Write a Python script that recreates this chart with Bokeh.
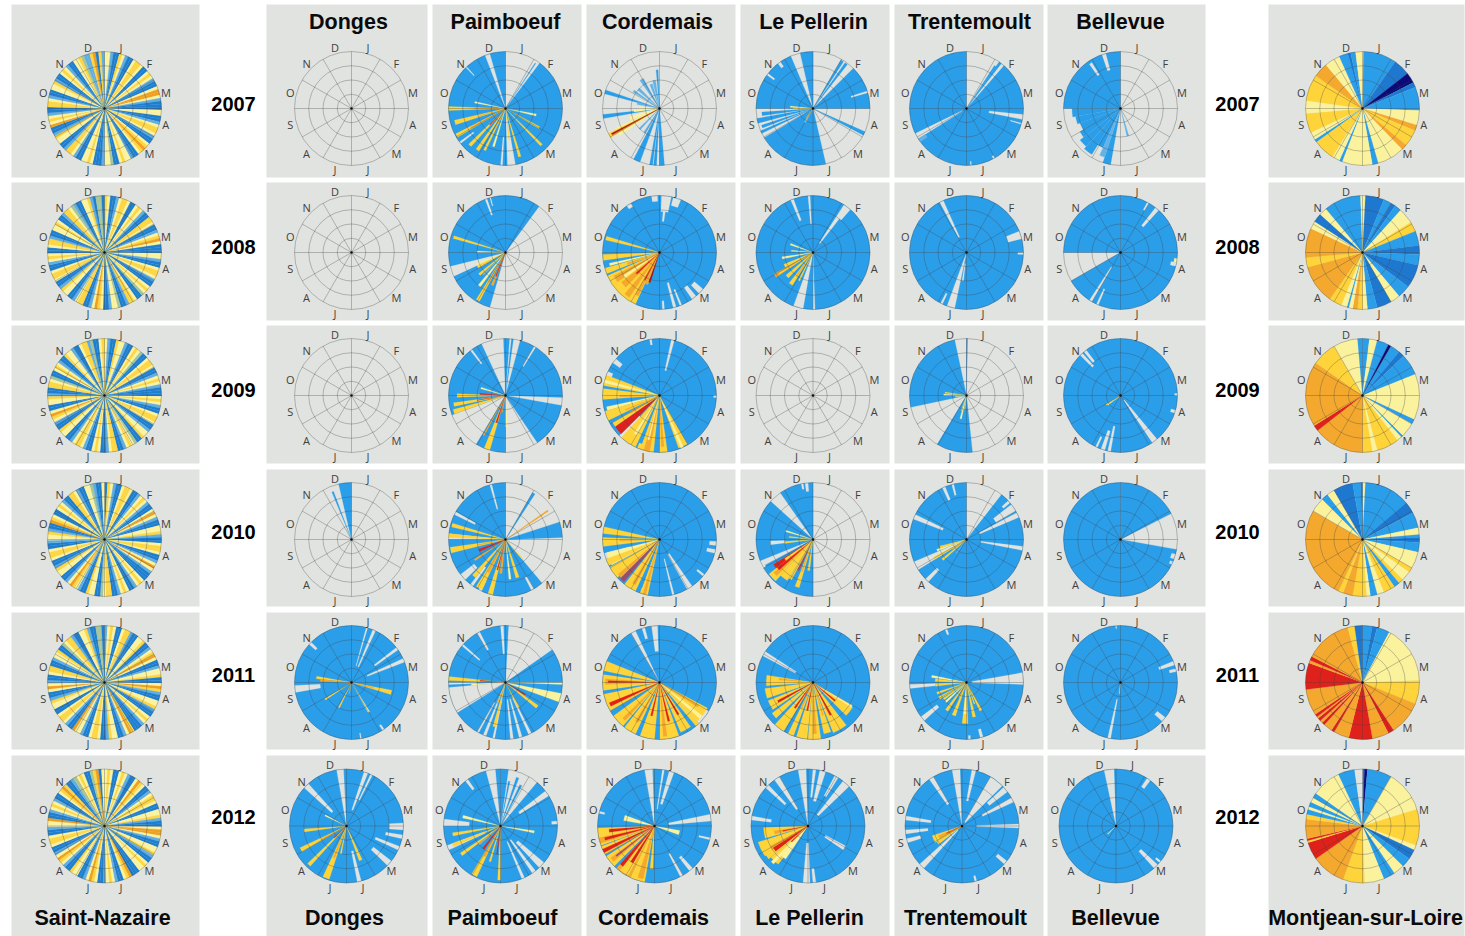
from bokeh.plotting import figure
from bokeh.models import ColumnDataSource, Range1d
from bokeh.embed import file_html
from bokeh.resources import INLINE
from bokeh.core.properties import value
import math

YEARS = ["2007", "2008", "2009", "2010", "2011", "2012"]
MONTHS = ["J", "F", "M", "A", "M", "J", "J", "A", "S", "O", "N", "D"]
STATIONS = ["Saint-Nazaire", "Donges", "Paimboeuf", "Cordemais", "Le Pellerin",
            "Trentemoult", "Bellevue", "Montjean-sur-Loire"]

# ---- Saint-Nazaire: one class letter per equal sector, clockwise from January
NAZAIRE_2007 = "PPLBBYPLBBPYYPBBPYPLBBPOOPLBBBPPBBLPYYPLBBPYOYPBBLPPYPBBGPPLBBBPYPPBBLPYYLBBPPYLBBOPYPLBBYYPLBBPPYLBBPYPLBBPPYGLLYOBYL"
NAZAIRE_2008 = "YPBBLPYYPBBPYPLBBYYPBBLPYOPBBBPPLBBPYYPLBBPYPGBBPYYLBBGPPLBBPYOPLBBYYPLBBPPYLBBPYYPBBLPYPBBPYYLBBPPYPBBLYYPGLBBPPYLBGGB"
NAZAIRE_2009 = "PLBBYPPLBBPYPGBBPYYPBBLPYPLBBBPYPLBBPYYPBBLPPYBBGPYPLBBYYPLBBPYPBBLPYYPLBBPPYBBLPYOPBBPPYLBBYYPGBBPYPLBBYPPLBBPYYLGBBPY"
NAZAIRE_2010 = "BYPLBBPYYPBBLPYPLBBPOPLBBPPYLBBPYYPBBLPOPLBBBPYPLBBPYPLBBYYPGBBPPYBBLPYOPLBBPPYLBBPYYPBBLPPYLBBOYPBBPYPLBBYYPLBBPPGLBBP"
NAZAIRE_2011 = "LPYPBBPYYLBBPPYBBLPYOPBBLPPYBBPOYLBBPPYLBBPYPLBBBYOPLBBPPYLBBPYYPBBLPPOBBLPYYPBBPPYLBBPOPLBBPYYBBLPPYBBGPYYLBBPPYLBBGGB"
NAZAIRE_2012 = "PYPBBPYPLBBPOYPBBLPYYPBBPPYLBBPOOPLBBPPYLBBPYPPBBBOYPBBLPYPLBBPYOPLBBPPYBBLPYOPLBBPYYPBBLPPOBBLPYPLBBPYOYBBLGPYPBBGYOBP"

# ---- full sectors: (end of sector in degrees, class), clockwise from January
MONTJEAN_2007 = [(1,"p"),(35,"b"),(52,"m"),(63,"n"),(68,"m"),(92,"b"),(107,"p"),(113,"o"),(130,"y"),(136,"o"),(164,"p"),(170,"b"),(201,"p"),(204,"b"),(212,"p"),(234,"y"),(237,"b"),(245,"p"),(265,"y"),(278,"p"),(305,"y"),(320,"o"),(336,"p"),(345,"b"),(348,"m"),(353,"b"),(360,"p")]
MONTJEAN_2008 = [(3,"p"),(22,"m"),(30,"b"),(35,"m"),(42,"b"),(58,"p"),(68,"y"),(83,"b"),(92,"m"),(103,"b"),(127,"m"),(140,"b"),(150,"p"),(165,"m"),(175,"b"),(180,"p"),(185,"y"),(190,"o"),(194,"p"),(196,"b"),(202,"p"),(215,"y"),(255,"o"),(265,"y"),(295,"o"),(303,"p"),(312,"m"),(320,"p"),(358,"b"),(360,"p")]
MONTJEAN_2009 = [(7,"b"),(15,"p"),(27,"b"),(30,"n"),(40,"b"),(46,"m"),(68,"b"),(115,"p"),(120,"b"),(135,"p"),(137,"b"),(142,"p"),(165,"y"),(170,"p"),(180,"y"),(232,"o"),(238,"r"),(305,"o"),(330,"y"),(355,"p"),(360,"b")]
MONTJEAN_2010 = [(3,"p"),(50,"b"),(62,"m"),(78,"b"),(85,"p"),(88,"b"),(93,"m"),(103,"b"),(120,"p"),(125,"y"),(135,"p"),(140,"y"),(146,"b"),(158,"y"),(165,"p"),(172,"b"),(176,"p"),(190,"y"),(200,"o"),(205,"y"),(300,"o"),(315,"p"),(322,"b"),(330,"p"),(350,"m"),(358,"b"),(360,"m")]
MONTJEAN_2011 = [(10,"b"),(15,"m"),(28,"b"),(88,"p"),(100,"y"),(112,"y"),(147,"o"),(153,"r"),(170,"o"),(194,"r"),(210,"o"),(213,"r"),(222,"o"),(225,"r"),(228,"o"),(231,"r"),(233,"o"),(236,"r"),(263,"o"),(290,"r"),(293,"o"),(297,"r"),(345,"o"),(352,"y"),(360,"m")]
MONTJEAN_2012 = [(2,"m"),(5,"n"),(30,"b"),(73,"p"),(110,"y"),(115,"p"),(125,"m"),(135,"b"),(146,"p"),(158,"b"),(178,"p"),(200,"y"),(235,"o"),(253,"r"),(255,"y"),(257,"r"),(277,"o"),(282,"y"),(287,"b"),(290,"p"),(295,"b"),(300,"p"),(305,"b"),(335,"p"),(352,"b"),(360,"w")]

# ---- painted in order: (from, to, class) or (from, to, class, reach) or (from, to, class, start, reach)
DONGES_2007 = []
DONGES_2008 = []
DONGES_2009 = []
DONGES_2010 = [(347,360,"b"),(337.5,339.5,"b",.9)]
DONGES_2011 = [(0,360,"b"),(15,16.5,"w",.3,1),(22,25,"w",.3,1),(52,55,"w",.5,1),(65,69,"w",.3,1),(260,267,"w",.55,1),(312,315,"w",.85,1),(145,147,"w",.9,1),(170,171,"w",.9,1),
  (276,280,"y",.62),(272,276,"o",.55),(101,107,"y",.72),(103,105,"o",.4),(236,239,"y",.55),(205,208,"y",.5),(190,192,"o",.2),(148,151,"p",.6)]
DONGES_2012 = [(0,360,"b"),(350,357,"w"),(18,22,"w",.3,1),(25,27,"w",.5,1),(312,318,"w",.35,1),(87,94,"w",.75,1),(99,103,"w",.7,1),(111,115,"w",.55,1),(128,134,"w",.6,1),(165,169,"w",.45,1),
  (262,266,"y",.75),(240,245,"y",.9),(222,226,"y",.95),(198,205,"y",.98),(200,203,"o",.6),(190,193,"y",.5),(155,160,"y",.65),(295,298,"p",.42),(225,228,"r",.3),(240,243,"o",.5)]

PAIMBOEUF_2007 = [(37,360,"b"),(33,34,"b",.95),(339,344,"w"),(170,178,"w"),(183,185,"w",.5,1),(232,234,"w",.7,1),(316,317,"w",.8,1),
  (268,272,"y",1),(269,271,"o",.55),(252,257,"y",.92),(253,255,"o",.5),(239,243,"y",.98),(240,242,"o",.7),(222,226,"y",.9),(223,225,"r",.4),(212,216,"y",.88),(205,208,"y",.82),(206,207.5,"o",.4),
  (280,283,"p",.55),(100,104,"p",.55),(118,121,"y",.68),(134,137,"y",.9),(162,165,"y",.88),(172,174,"y",.55),(196,199,"p",.7)]
PAIMBOEUF_2008 = [(0,36,"b"),(196,245,"b"),(256,360,"b"),(339,341,"w",.7,1),(344,345,"w",.85,1),
  (285,288,"y",.95),(270,273,"p",.5),(240,246,"y",.55),(228,232,"y",.6),(216,220,"p",.75),(208,212,"y",.97),(209,211,"o",.6),(200,204,"o",.62),(201,203,"r",.45),(224,226,"o",.55),(246,249,"p",.55)]
PAIMBOEUF_2009 = [(0,4,"b"),(6,8,"b"),(15,92,"b"),(100,146,"b"),(180,211,"b"),(250,335,"b"),(358,360,"b"),(30,32,"w",.6,1),(322,324,"w",.7,1),
  (268,272,"y",.85),(258,262,"y",.92),(260,261,"r",.5),(250,255,"y",.95),(285,289,"p",.45),(196,202,"y",1),(197,200,"r",.5),(190,193,"o",.3),(176,180,"p",.55),(208,210,"o",.8),(272,275,"r",.45)]
PAIMBOEUF_2010 = [(180,270,"b"),(276,360,"b"),(30,33,"b",.95),(55,57,"o",.9),(57,59,"w",.8,1),(72,88,"b"),(140,180,"b"),(344,346,"w",.55,1),(296,299,"w",.6,1),(150,153,"w",.75,1),(225,232,"w",.7,1),(215,218,"w",.6,1),(205,208,"w",.8,1),
  (283,287,"y",.97),(272,276,"y",1),(256,262,"y",.98),(258,260,"o",.5),(245,250,"r",.5),(235,238,"o",.65),(218,223,"y",.85),(205,212,"y",.97),(206,209,"o",.65),(193,198,"y",1),(194,196,"r",.55),(186,190,"o",.6),(160,165,"y",.7),(172,175,"p",.7),(138,140,"y",.45)]
PAIMBOEUF_2011 = [(55,360,"b"),(358,360,"b"),(0,3,"b"),(238,265,"w"),(355,358,"w",.5,1),(330,333,"w",.65,1),(310,312,"w",.6,1),(200,203,"w"),(208,210,"w",.4,1),(191,193,"w",.3,1),(172,175,"w",.3,1),(163,166,"w",.3,1),(153,156,"w",.3,1),(268,270,"w",.5,1),
  (101,110,"p",1),(125,130,"y",.7),(120,123,"r",.4),(192,196,"y",.8),(272,276,"y",1),(273,275,"r",.45),(265,268,"p",.6),(90,92,"p",1),(200,203,"o",.4),(150,154,"y",.5)]
PAIMBOEUF_2012 = [(40,345,"b"),(355,360,"b"),(0,8,"b"),(10,12,"b",.8),(18,21,"b",.9),(25,28,"b",.8),(52,58,"w",.4,1),(270,277,"w",.55,1),(245,250,"w",.3,1),(322,325,"w",.8,1),(130,137,"w",.4,1),(142,146,"w",.3,1),(155,158,"w",.3,1),(85,88,"w",.9,1),
  (282,286,"p",.68),(98,102,"p",.6),(258,262,"y",.85),(246,250,"y",.9),(232,236,"y",.85),(205,211,"y",.98),(206,209,"o",.6),(180,183,"y",.95),(195,198,"y",.65),(215,219,"r",.5),(228,231,"o",.5),(186,188,"r",.5)]

CORDEMAIS_2007 = [(285,289,"b",1),(260,264,"b",1),(302,306,"l",.55),(310,316,"l",.5),(325,332,"l",.6),(338,344,"l",.45),(346,352,"l",.5),(355,358,"b",.68),(200,207,"b",1),(187,190,"b",1),(183,186,"b",1),(175,180,"b",1),(210,214,"l",.5),(222,226,"l",.5),
  (248,255,"p",.55),(262,268,"p",.45),(270,276,"p",.35),(236,246,"p",.85),(239,244,"y",1),(240,243,"o",.95),(241,242.5,"d",.95),(280,286,"l",.4)]
CORDEMAIS_2008 = [(0,360,"b"),(2,12,"w",.72,1),(5,8,"w",.55,1),(14,22,"w",.85,1),(352,358,"w",.9,1),(325,330,"w",.93,1),(140,145,"w",.75,1),(130,136,"w",.8,1),(163,166,"w",.55,1),(157,159,"w",.7,1),(175,177,"w",.85,1),
  (283,287,"y",.97),(262,268,"y",1),(255,258,"p",.9),(248,254,"y",1),(249,252,"o",.6),(205,246,"y",1),(212,245,"y",1),(235,243,"o",.9),(224,232,"o",.85),(226,229,"r",.55),(214,220,"o",.95),(206,210,"o",.85),(207,209,"r",.55),(200,205,"o",.6),(197,200,"d",.55),(234,238,"p",.75)]
CORDEMAIS_2009 = [(0,360,"b"),(12,15,"w",.45,1),(305,310,"w",.85,1),(290,295,"w",.9,1),(350,352,"w",.9,1),(220,225,"w",.5,1),(90,92,"w",.95,1),
  (280,291,"y",1),(283,286,"p",1),(266,277,"y",1),(268,270,"o",.7),(254,258,"p",.95),(244,254,"y",1),(246,248,"o",.65),(225,235,"r",.95),(235,240,"y",.95),(238,241,"o",.6),(205,222,"y",1),(210,214,"p",.8),(186,203,"y",1),(190,196,"o",1),(193,195,"p",.8),(172,180,"y",1),(175,178,"o",.9),(150,160,"y",.98),(155,158,"p",1),(200,204,"b",.9)]
CORDEMAIS_2010 = [(0,360,"b"),(145,151,"w",.3,1),(128,130,"w",.85,1),(100,104,"w",.85,1),(92,96,"w",.88,1),(165,167,"w",.35,1),(250,256,"w",.55,1),
  (276,283,"y",1),(263,272,"y",1),(268,270,"o",.7),(242,256,"p",.95),(243,250,"y",1),(228,241,"y",1),(225,230,"o",.95),(220,225,"v",.97),(205,218,"y",1),(208,212,"o",.9),(192,200,"y",1),(194,197,"o",1),(200,203,"b",.9)]
CORDEMAIS_2011 = [(0,360,"b"),(330,335,"w"),(352,358,"w",.55,1),(342,345,"w",.8,1),(120,136,"w",.45,1),
  (282,292,"y",1),(262,278,"y",1),(268,274,"o",.95),(270,272,"r",.9),(240,258,"y",1),(244,248,"r",.95),(220,234,"y",1),(222,226,"o",.9),(205,218,"y",1),(208,212,"o",.8),(185,200,"y",1),(192,195,"r",.6),(160,180,"y",1),(165,168,"r",.7),(172,176,"o",.95),(145,157,"y",.95),(148,151,"r",.65),(118,136,"y",.95),(120,123,"o",.8),(128,132,"p",.95),(136,140,"y",1)]
CORDEMAIS_2012 = [(0,360,"b"),(350,358,"w"),(8,10,"w",.3,1),(15,20,"w",.4,1),(150,153,"w",.55,1),(138,142,"w",.7,1),(78,85,"w",.25,1),(102,104,"w",.8,1),(283,285,"w",.9,1),
  (250,268,"y",1),(252,258,"o",1),(254,257,"r",.9),(262,266,"r",.8),(240,249,"y",1),(242,246,"r",1),(225,238,"y",1),(229,234,"o",.95),(231,233,"v",.85),(205,222,"o",1),(208,218,"y",.98),(210,214,"r",.75),(218,222,"r",.9),(190,205,"y",1),(192,198,"o",.95),(182,186,"y",.75),(280,290,"p",.55),(100,110,"p",.45)]

PELLERIN_2007 = [(45,90,"b"),(30,33,"b",.98),(35,38,"b",.98),(72,74,"w",.7,1),(114,118,"b",1),(167,239,"b"),(244,247,"b"),(249,252,"b",.95),(255,260,"b",1),(262,266,"b",.9),(270,337,"b"),(347,360,"b"),(306,308,"w",.85,1),(322,325,"w",.9,1),
  (268,272,"y",.35),(273,276,"p",.4),(208,212,"p",.28),(215,218,"o",.2)]
PELLERIN_2008 = [(0,360,"b"),(190,200,"w"),(178,180,"w"),(355,357,"w",.5,1),(337,340,"w",.6,1),(33,38,"w",.2,1),(37,41,"w",.75,1),
  (288,292,"p",.42),(273,276,"p",.38),(258,262,"p",.55),(242,248,"y",.55),(236,241,"o",.78),(237,239,"y",.7),(224,230,"y",.62),(212,218,"y",.68),(214,216,"o",.5),(205,208,"y",.55),(320,322,"m",.1)]
PELLERIN_2009 = []
PELLERIN_2010 = [(180,240,"b"),(248,312,"b"),(325,360,"b"),(352,355,"w",.85,1),(348,350,"w",.9,1),(263,268,"w",.5,.75),
  (286,289,"p",.5),(275,278,"y",.42),(262,266,"y",.5),(232,240,"r",.82),(222,232,"y",.98),(225,230,"o",.9),(228,232,"r",.8),(232,236,"y",.6),(212,222,"y",.85),(204,208,"v",.6),(208,212,"y",.8),(196,201,"y",.88),(198,200,"o",.6),(186,190,"y",.55),(238,242,"b",.95)]
PELLERIN_2011 = [(0,360,"b"),(298,303,"w",.35,1),
  (266,279,"y",.82),(274,277,"o",.6),(251,263,"y",.85),(236,248,"y",.85),(240,243,"r",.7),(226,233,"y",.9),(211,222,"y",1),(214,217,"r",.55),(200,206,"y",1),(203,205,"o",.5),(186,197,"y",1),(190,193,"r",.5),(172,185,"y",1),(176,180,"o",.9),(160,168,"y",.92),(162,164,"o",.6),(142,158,"y",.95),(150,153,"r",.65),(122,135,"y",.82),(128,131,"r",.5),(120,123,"p",.8)]
PELLERIN_2012 = [(0,360,"b"),(350,358,"w"),(5,8,"w",.5,1),(12,18,"w",.45,1),(28,32,"w",.6,1),(38,46,"w",.25,1),(324,330,"w",.35,1),(312,316,"w",.55,1),(276,280,"w",.65,1),(118,124,"w",.35,.75),(178,185,"w",.3,1),(172,175,"w",.75,1),
  (254,268,"y",.78),(256,262,"o",.6),(258,260,"r",.45),(235,252,"y",.92),(230,250,"y",.9),(236,242,"o",.75),(232,238,"r",.72),(218,230,"y",.85),(222,226,"p",.9),(214,222,"p",.7),(225,228,"r",.4)]

TRENTEMOULT_2007 = [(35,360,"b"),(38,41,"w"),(33,35,"b",.9),(238,244,"w",.08,1),(234,238,"l",.85,1),(96,101,"w",.4,1),(105,106,"w",.8,1),(150,152,"w",.95,1),(175,176,"w",.93,1)]
TRENTEMOULT_2008 = [(0,360,"b"),(192,200,"w"),(205,207,"w",.8,1),(332,336,"w",.3,1),(68,76,"w",.75,1),(90,92,"w",.9,1),(186,189,"w",.2,.5)]
TRENTEMOULT_2009 = [(174,211,"b"),(258,348,"b"),(0,1,"m"),
  (270,274,"p",.4),(276,279,"y",.38),(262,265,"p",.2),(192,196,"p",.42),(186,189,"y",.25),(198,200,"y",.28)]
TRENTEMOULT_2010 = [(38,360,"b"),(52,60,"w",.6,1),(47,50,"w",.85,1),(62,67,"w",.25,1),(97,101,"w",.25,1),(238,247,"w",.1,1),(222,226,"w",.72,1),(291,296,"w",.45,1),(335,338,"w",.75,1),(345,347,"w",.8,1),
  (248,252,"p",.55),(238,242,"y",.65),(228,232,"y",.55),(234,237,"o",.3),(215,219,"l",.3),(252,256,"y",.48)]
TRENTEMOULT_2011 = [(0,360,"b"),(80,92,"w",.1,1),(264,268,"w",.55,1),(228,233,"w",.65,1),(163,166,"w",.85,1),(176,178,"w",.93,1),(338,340,"w",.9,1),
  (278,282,"p",.62),(272,277,"y",.55),(263,268,"y",.55),(248,252,"y",.55),(238,243,"y",.55),(232,236,"y",.5),(225,229,"p",.5),(213,218,"y",.6),(198,204,"y",.62),(178,186,"y",.72),(180,185,"p",.55),(165,170,"y",.62),(150,155,"y",.55),(158,161,"y",.4),(205,208,"o",.3)]
TRENTEMOULT_2012 = [(0,360,"b"),(350,358,"w"),(10,14,"w",.45,1),(30,45,"w",.08,1),(47,53,"w",.6,1),(60,65,"w",.4,1),(325,330,"w",.45,1),(88,92,"w",.25,1),(276,280,"w",.55,1),(262,266,"w",.6,1),(253,257,"w",.75,1),(222,228,"w",.1,1),(128,132,"w",.8,1),(165,167,"w",.9,1),
  (238,252,"y",.55),(240,248,"o",.45),(244,246,"r",.3),(232,238,"y",.52)]

BELLEVUE_2007 = [(270,360,"b"),(260,270,"b",.85),(250,260,"b",.8),(240,250,"b",.75),(232,240,"b",.82),(222,232,"b",.9),(212,222,"b",.95),(204,212,"b",.75),(190,198,"b"),(198,204,"l",.9),(325,328,"w",.7,.95),(341,345,"w",.7,1),(163,167,"l",.5)]
BELLEVUE_2008 = [(0,240,"b"),(270,360,"b"),(210,213,"w",.3,1),(203,205,"w",.7,1),(38,42,"w",.6,1),(28,30,"w",.85,1),(100,104,"w",.9,1),(96,100,"p",.95,1)]
BELLEVUE_2009 = [(0,360,"b"),(315,318,"w",.7,1),(320,323,"w",.75,1),(140,146,"w",.1,1),(196,200,"w",.65,1),(190,193,"w",.55,1),(204,206,"w",.8,1),(105,108,"w",.92,1),(88,90,"w",.95,1),
  (232,236,"p",.28),(236,239,"y",.3),(225,228,"o",.1)]
BELLEVUE_2010 = [(0,63,"b"),(100,360,"b"),(105,110,"w",.93,1),(113,116,"w",.95,1)]
BELLEVUE_2011 = [(0,360,"b"),(68,72,"w",.72,1),(76,79,"w",.88,1),(190,193,"w",.3,1),(128,133,"w",.82,1),(355,356,"w",.95,1),(185,187,"p",.2)]
BELLEVUE_2012 = [(0,360,"b"),(348,358,"w"),(33,37,"w",.82,1),(133,138,"w",.6,1),(128,130,"w",.9,1),(224,228,"p",.2)]

ALL_SECTORS = [
    [NAZAIRE_2007, DONGES_2007, PAIMBOEUF_2007, CORDEMAIS_2007, PELLERIN_2007, TRENTEMOULT_2007, BELLEVUE_2007, MONTJEAN_2007],
    [NAZAIRE_2008, DONGES_2008, PAIMBOEUF_2008, CORDEMAIS_2008, PELLERIN_2008, TRENTEMOULT_2008, BELLEVUE_2008, MONTJEAN_2008],
    [NAZAIRE_2009, DONGES_2009, PAIMBOEUF_2009, CORDEMAIS_2009, PELLERIN_2009, TRENTEMOULT_2009, BELLEVUE_2009, MONTJEAN_2009],
    [NAZAIRE_2010, DONGES_2010, PAIMBOEUF_2010, CORDEMAIS_2010, PELLERIN_2010, TRENTEMOULT_2010, BELLEVUE_2010, MONTJEAN_2010],
    [NAZAIRE_2011, DONGES_2011, PAIMBOEUF_2011, CORDEMAIS_2011, PELLERIN_2011, TRENTEMOULT_2011, BELLEVUE_2011, MONTJEAN_2011],
    [NAZAIRE_2012, DONGES_2012, PAIMBOEUF_2012, CORDEMAIS_2012, PELLERIN_2012, TRENTEMOULT_2012, BELLEVUE_2012, MONTJEAN_2012],
]

# ---- styles and layout
PANEL = "#E0E3DF"
COLORS = {
    "b": "#2B9EEA", "m": "#1F78CF", "n": "#0A0A78", "l": "#63B3E8", "w": PANEL,
    "p": "#FBF29E", "y": "#FFD43B", "o": "#F4A92E", "r": "#E0201A", "d": "#A31018", "v": "#A04A6A",
    "B": "#1E7FD0", "L": "#62AEE0", "G": "#A5C69A", "P": "#FBF3A0", "Y": "#FFD640", "O": "#F0A020",
}
COL_L = [11, 266, 432, 586, 740, 894, 1047, 1268]
COL_R = [199, 427, 581, 735, 889, 1043, 1205, 1464]
ROW_T = [4, 182, 325, 469, 612, 755]
ROW_B = [177, 320, 463, 606, 749, 940]
CX = [104, 351, 505, 659, 812.5, 966, 1120, 1362]
CY = [108, 252, 395, 539, 682, 825.5]
R = 57.0
SHIFT_2012 = {1: -5, 2: -5, 3: -5, 4: -5, 5: -4.5, 6: -4.5}

W, H = 1465, 936
p = figure(width=W, height=H, x_range=Range1d(0, W), y_range=Range1d(-H, 0),
           output_backend="svg", toolbar_location=None, min_border=0,
           background_fill_color="white", border_fill_color="white", outline_line_color=None)
p.axis.visible = False
p.grid.visible = False

# panels
ql, qr, qt, qb = [], [], [], []
for c in range(8):
    for r in range(6):
        ql.append(COL_L[c]); qr.append(COL_R[c]); qt.append(-ROW_T[r]); qb.append(-ROW_B[r])
p.quad(left=ql, right=qr, top=qt, bottom=qb, fill_color=PANEL, line_color=None)

def expand(sectors):
    """Turn a disc's records into (from, to, class, start, reach)."""
    if isinstance(sectors, str):
        step = 360.0 / len(sectors)
        return [(i * step, (i + 1) * step, ch, 0, 1) for i, ch in enumerate(sectors)]
    out = []
    if sectors and isinstance(sectors[0][0], (int, float)) and len(sectors[0]) == 2:
        a = 0
        for end, ch in sectors:
            out.append((a, end, ch, 0, 1))
            a = end
        return out
    for s in sectors:
        if len(s) == 3:
            out.append((s[0], s[1], s[2], 0, 1))
        elif len(s) == 4:
            out.append((s[0], s[1], s[2], 0, s[3]))
        else:
            out.append(tuple(s))
    return out

w = dict(x=[], y=[], inner=[], outer=[], start=[], end=[], color=[])
ring = dict(x=[], y=[], r=[])
seg = dict(x0=[], y0=[], x1=[], y1=[])
edge = dict(x=[], y=[])
labels = dict(x=[], y=[], t=[])

for r in range(6):
    for c in range(8):
        cx = CX[c] + (SHIFT_2012.get(c, 0) if r == 5 else 0)
        cy = -CY[r]
        edge["x"].append(cx); edge["y"].append(cy)
        for a0, a1, ch, r0, r1 in expand(ALL_SECTORS[r][c]):
            w["x"].append(cx); w["y"].append(cy)
            w["inner"].append(r0 * R); w["outer"].append(r1 * R)
            w["start"].append(math.radians(90 - a1)); w["end"].append(math.radians(90 - a0))
            w["color"].append(COLORS[ch])
        for k in (1, 2, 3, 4):
            ring["x"].append(cx); ring["y"].append(cy); ring["r"].append(R * k / 4)
        for m in range(12):
            t = math.radians(30 * m)
            seg["x0"].append(cx); seg["y0"].append(cy)
            seg["x1"].append(cx + R * math.sin(t)); seg["y1"].append(cy + R * math.cos(t))
            tl = math.radians(15 + 30 * m)
            labels["x"].append(cx + 63.5 * math.sin(tl)); labels["y"].append(cy + 63.5 * math.cos(tl))
            labels["t"].append(MONTHS[m])

p.annular_wedge(x="x", y="y", inner_radius="inner", outer_radius="outer", start_angle="start", end_angle="end",
                fill_color="color", line_color="color", line_width=0.2, source=ColumnDataSource(w))
p.segment(x0="x0", y0="y0", x1="x1", y1="y1", line_color="#404040", line_alpha=0.36, line_width=0.9,
          source=ColumnDataSource(seg))
p.circle(x="x", y="y", radius="r", fill_color=None, line_color="#404040", line_alpha=0.36, line_width=0.9,
         source=ColumnDataSource(ring))
p.circle(x="x", y="y", radius=1.2, fill_color="#111111", line_color=None, source=ColumnDataSource(edge))
p.text(x="x", y="y", text="t", text_font=value("Open Sans"), text_font_size="11px", text_color="#404040",
       text_align="center", text_baseline="middle", source=ColumnDataSource(labels))

# titles
TOP_X = [348, 505, 657, 813, 969, 1120]
BOTTOM_X = [102, 344, 502, 653, 809, 965, 1115, 1365]
tt = dict(x=TOP_X + BOTTOM_X, y=[-21] * 6 + [-917] * 8, t=STATIONS[1:7] + STATIONS)
p.text(x="x", y="y", text="t", text_font=value("Liberation Sans"), text_font_style="bold", text_font_size="21.5px",
       text_color="#0a0a0a", text_align="center", text_baseline="middle", source=ColumnDataSource(tt))
YEAR_Y = [103, 246, 389, 531, 674, 816]
yy = dict(x=[233] * 6 + [1237] * 6, y=[-v for v in YEAR_Y] * 2, t=YEARS * 2)
p.text(x="x", y="y", text="t", text_font=value("Liberation Sans"), text_font_style="bold", text_font_size="20px",
       text_color="#000000", text_align="center", text_baseline="middle", source=ColumnDataSource(yy))

open("out.html", "w").write(file_html(p, INLINE))
